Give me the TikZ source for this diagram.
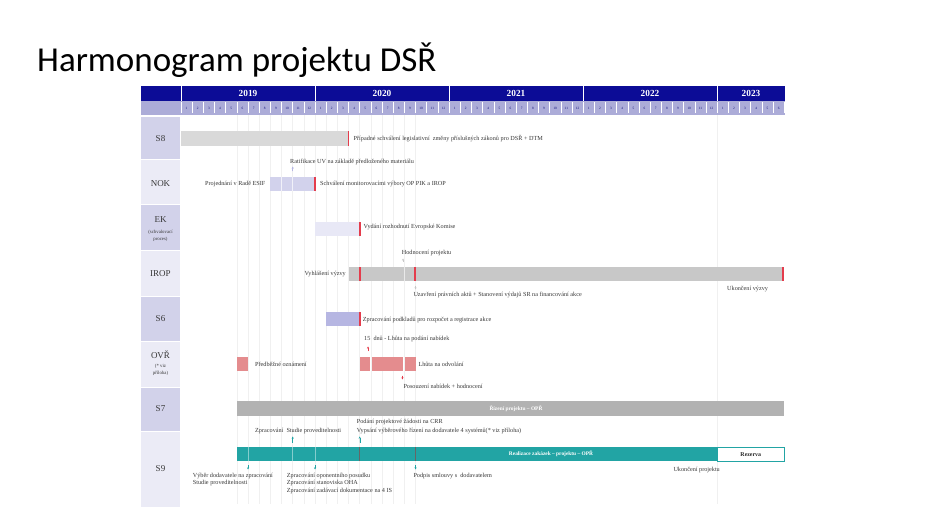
\documentclass[tikz,border=0pt]{standalone}
\usepackage{fontspec}
\setmainfont{Liberation Serif}
\newfontfamily\titlefont{Carlito}
\usetikzlibrary{arrows.meta}
\definecolor{hdr}{RGB}{12,12,150}
\definecolor{mrow}{RGB}{172,172,216}
\definecolor{rowD}{RGB}{210,210,234}
\definecolor{rowL}{RGB}{235,235,246}
\definecolor{grayA}{RGB}{217,217,217}
\definecolor{grayB}{RGB}{200,200,200}
\definecolor{grayC}{RGB}{178,178,178}
\definecolor{lavA}{RGB}{210,210,236}
\definecolor{lavB}{RGB}{232,232,246}
\definecolor{lavC}{RGB}{182,182,226}
\definecolor{redm}{RGB}{228,60,76}
\definecolor{pinkb}{RGB}{228,140,142}
\definecolor{teal}{RGB}{34,164,164}
\definecolor{txt}{RGB}{55,55,55}
\definecolor{gridc}{RGB}{240,240,240}
\newcommand\mo[1]{181+11.17*(#1)}
\newcommand\redmk[3]{\fill[redm] ({#1-0.9},#2) rectangle ({#1+0.9},#3);}
\begin{document}
\begin{tikzpicture}[x=1pt,y=-1pt,
  lbl/.style={font=\fontsize{6.2}{7.9}\selectfont, inner sep=0pt, anchor=west, text=txt},
  lblr/.style={lbl, anchor=east},
  rowlab/.style={inner sep=0pt, minimum width=39pt, text=txt, font=\fontsize{9}{9.5}\selectfont, align=center},
  year/.style={text=white, font=\fontsize{9.3}{10}\selectfont\bfseries, inner sep=0pt},
  mnum/.style={text=hdr!80!black, font=\fontsize{3.4}{3.6}\selectfont, inner sep=0pt},
  barlab/.style={text=white, font=\fontsize{5.4}{6.5}\selectfont\bfseries, inner sep=0pt},
  tick/.style={-{Stealth[length=2.2pt,width=2.2pt]}, line width=0.45pt},
  gridl/.style={draw=gridc, line width=0.5pt}
]
\useasboundingbox (0,0) rectangle (928,518);
% title
\node[anchor=base west, inner sep=0pt, font=\titlefont\fontsize{35}{40}\selectfont] (title) at (37,72) {Harmonogram projektu DSŘ};

% header
\fill[hdr] (141,86) rectangle (785,101);
\fill[mrow] (141,101) rectangle (785,115);
\foreach \xx in {181,315.04,449.08,583.12,717.16}
  \draw[white, line width=0.8pt] (\xx,86) -- (\xx,101);
\foreach \k in {0,...,54}
  \draw[white, line width=0.5pt] ({\mo{\k}},102.5) -- ({\mo{\k}},113.5);
\node[year] (y2019) at (248,93.6) {2019};
\node[year] (y2020) at (382,93.6) {2020};
\node[year] (y2021) at (516,93.6) {2021};
\node[year] (y2022) at (650,93.6) {2022};
\node[year] (y2023) at (751,93.6) {2023};
\foreach \k in {0,...,53} {
  \pgfmathtruncatemacro\mn{mod(\k,12)+1}
  \node[mnum] (m\k) at ({\mo{\k+0.5}},108) {\mn};
}

% grid lines
\foreach \k in {5,...,21}
  \draw[gridl] ({\mo{\k}},115) -- ({\mo{\k}},504);
\draw[gridl] ({\mo{48}},115) -- ({\mo{48}},504);

% row labels
\fill[rowD] (141,117) rectangle (180,159.5);
\fill[rowL] (141,160.5) rectangle (180,204.5);
\fill[rowD] (141,205.5) rectangle (180,250.5);
\fill[rowL] (141,251.5) rectangle (180,296.5);
\fill[rowD] (141,297.5) rectangle (180,340.5);
\fill[rowL] (141,341.5) rectangle (180,386.5);
\fill[rowD] (141,387.5) rectangle (180,430.5);
\fill[rowL] (141,431.5) rectangle (180,507);
\node[rowlab] (s8) at (160.5,139) {S8};
\node[rowlab] (nok) at (160.5,184) {NOK};
\node[rowlab] (ek) at (160.5,220) {EK};
\node[rowlab, font=\fontsize{4.8}{7.4}\selectfont] (eksub) at (160.5,236) {(schvalovací\\proces)};
\node[rowlab] (irop) at (160.5,274) {IROP};
\node[rowlab] (s6) at (160.5,319) {S6};
\node[rowlab] (ovr) at (160.5,355) {OVŘ};
\node[rowlab, font=\fontsize{4.8}{7.4}\selectfont] (ovrsub) at (160.5,370) {(* viz\\příloha)};
\node[rowlab] (s7) at (160.5,409) {S7};
\node[rowlab] (s9) at (160.5,469) {S9};

% S8
\fill[grayA] (181,131.5) rectangle ({\mo{15}},146);
\redmk{\mo{15}}{131.5}{146}
\node[lbl] (t8) at (353.5,139) {Případné schválení legislativní\ \ změny příslušných zákonů pro DSŘ + DTM};

% NOK
\node[lbl] (ratif) at (290,161.7) {Ratifikace UV na základě předloženého materiálu};
\coordinate (nokA) at ({\mo{10}},171.5);
\coordinate (nokB) at ({\mo{10}},166.5);
\draw[tick, draw=lavC, fill=lavC] (nokA) -- (nokB);
\fill[lavA] ({\mo{8}},177) rectangle ({\mo{12}},191);
\draw[white!70!lavA, line width=0.5pt] ({\mo{9}},177) -- ({\mo{9}},191);
\draw[white!70!lavA, line width=0.5pt] ({\mo{10}},177) -- ({\mo{10}},191);
\redmk{\mo{12}}{177}{191}
\node[lblr] (esif) at (265.5,184.3) {Projednání v Radě ESIF};
\node[lbl] (schval) at (320,184.3) {Schválení monitorovacími výbory OP PIK a IROP};

% EK
\fill[lavB] ({\mo{12}},222) rectangle ({\mo{16}},236.5);
\redmk{\mo{16}}{222}{236.5}
\node[lbl] (vydani) at (363.5,227.5) {Vydání rozhodnutí Evropské Komise};

% IROP
\node[lbl] (hodn) at (401.7,253.3) {Hodnocení projektu};
\coordinate (hA) at (403,262);
\coordinate (hB) at (403,258.5);
\draw[tick, draw=grayB, fill=grayB] (hA) -- (hB);
\fill[grayB] ({\mo{15}},266.7) rectangle ({\mo{54}},281);
\draw[white!60!grayB, line width=0.6pt] ({\mo{19.95}},266.7) -- ({\mo{19.95}},281);
\redmk{\mo{16}}{266.7}{281}
\redmk{\mo{21}-0.3}{266.7}{281}
\redmk{\mo{54}-0.9}{266.7}{281}
\node[lblr] (vyhl) at (346,274.3) {Vyhlášení výzvy};
\coordinate (uA) at ({\mo{21}},286);
\coordinate (uB) at ({\mo{21}},289.5);
\draw[tick, draw=grayB, fill=grayB] (uA) -- (uB);
\node[lbl] (uzavr) at (413.3,295.3) {Uzavření právních aktů + Stanovení výdajů SR na financování akce};
\node[lbl] (ukvyz) at (727,289) {Ukončení výzvy};

% S6
\fill[lavC] ({\mo{13}},311.7) rectangle ({\mo{16}},326);
\redmk{\mo{16}}{311.7}{326}
\node[lbl] (podkl) at (362.7,319.5) {Zpracování podkladů pro rozpočet a registrace akce};

% OVR
\node[lbl] (dnu) at (364,339.3) {15\ \ dnů - Lhůta na podání nabídek};
\coordinate (dA) at (368,351);
\coordinate (dB) at (368,346.5);
\draw[tick, draw=redm, fill=redm] (dA) -- (dB);
\fill[pinkb] ({\mo{5}},356.7) rectangle ({\mo{6}},371);
\node[lbl] (predb) at (255,364) {Předběžné oznámení};
\fill[pinkb] ({\mo{16}},356.7) rectangle (370.3,371);
\fill[pinkb] (372,356.7) rectangle (402.5,371);
\fill[pinkb] (405,356.7) rectangle ({\mo{21}},371);
\node[lbl] (odvol) at (418.3,364) {Lhůta na odvolání};
\coordinate (pA) at (402.4,375.5);
\coordinate (pB) at (402.4,379.5);
\draw[tick, draw=redm, fill=redm] (pA) -- (pB);
\node[lbl] (posouz) at (403.3,386.7) {Posouzení nabídek + hodnocení};

% S7
\fill[grayC] ({\mo{5}},401) rectangle ({\mo{54}},416);
\node[barlab] (rizeni) at (516,408.7) {Řízení projektu -- OPŘ};

% S9
\node[lbl] (studie) at (255,430.7) {Zpracování\ \ Studie proveditelnosti};
\node[lbl] (podani) at (356.7,422.3) {Podání projektové žádosti na CRR};
\node[lbl] (vypsani) at (356.7,430.7) {Vypsání výběrového řízení na dodavatele 4 systémů(* viz příloha)};
\coordinate (a1) at ({\mo{10}},442.5);
\coordinate (a1t) at ({\mo{10}},436.5);
\coordinate (a2) at ({\mo{16}},442.5);
\coordinate (a2t) at ({\mo{16}},436.5);
\draw[tick, draw=teal, fill=teal] (a1) -- (a1t);
\draw[tick, draw=teal, fill=teal] (a2) -- (a2t);
\fill[teal] ({\mo{5}},447) rectangle ({\mo{48}},461.3);
\foreach \k in {6,10,12}
  \draw[white!45!teal, line width=0.6pt] ({\mo{\k}},447) -- ({\mo{\k}},461.3);
\foreach \k in {16,21}
  \draw[black!60, line width=0.9pt] ({\mo{\k}},447) -- ({\mo{\k}},461.3);
\draw[black!60, line width=0.9pt] ({\mo{48}},447) -- ({\mo{48}},461.3);
\node[barlab] (realiz) at (551,454) {Realizace zakázek -- projektu -- OPŘ};
\node[draw=teal, line width=0.6pt, fill=white, minimum width=66.5pt, minimum height=14pt, inner sep=0pt, font=\fontsize{5.9}{7}\selectfont\bfseries, text=black!85] (rezerva) at (750.8,454.2) {Rezerva};
\coordinate (b1) at ({\mo{6}},465);
\coordinate (b1t) at ({\mo{6}},469.5);
\coordinate (b2) at ({\mo{12}},465);
\coordinate (b2t) at ({\mo{12}},469.5);
\coordinate (b3) at ({\mo{21}},465);
\coordinate (b3t) at ({\mo{21}},469.5);
\draw[tick, draw=teal, fill=teal] (b1) -- (b1t);
\draw[tick, draw=teal, fill=teal] (b2) -- (b2t);
\draw[tick, draw=teal, fill=teal] (b3) -- (b3t);
\node[lbl, align=left, anchor=north west] (vyber) at (192.7,472.5) {Výběr dodavatele na zpracování\\Studie proveditelnosti};
\node[lbl, align=left, anchor=north west] (opon) at (286.7,472.5) {Zpracování oponentního posudku\\Zpracování stanoviska OHA\\Zpracování zadávací dokumentace na 4 IS};
\node[lbl] (podpis) at (413.3,475.8) {Podpis smlouvy s\ \ dodavatelem};
\node[lbl] (ukproj) at (673.3,470) {Ukončení projektu};
\end{tikzpicture}
\end{document}
